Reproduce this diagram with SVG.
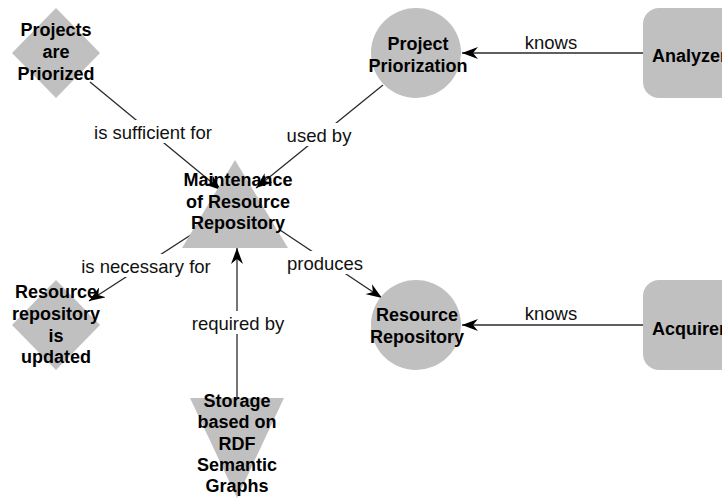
<svg xmlns="http://www.w3.org/2000/svg" width="722" height="500" viewBox="0 0 722 500">
<style>
.shape{fill:#c0c0c0;stroke:none}
.nt{font-family:"Liberation Sans",Arial,sans-serif;font-weight:bold;font-size:18px;fill:#000;text-anchor:middle}
.ntl{font-family:"Liberation Sans",Arial,sans-serif;font-weight:bold;font-size:18px;fill:#000;text-anchor:start}
.lbl{font-family:"Liberation Sans",Arial,sans-serif;font-size:18.5px;fill:#111;text-anchor:middle}
.lbg{fill:#fff;stroke:none}
.edge{stroke:#2a2a2a;stroke-width:1.3;fill:none;marker-end:url(#ah)}
</style>
<defs>
<marker id="ah" markerUnits="userSpaceOnUse" viewBox="0 0 16 12" refX="16" refY="6" markerWidth="16" markerHeight="12" orient="auto">
<path d="M0,0 L16,6 L0,12 L5,6 z" fill="#000"/>
</marker>
</defs>
<rect width="722" height="500" fill="#fff"/>
<g id="connectors">
<line class="edge" x1="90" y1="82" x2="221" y2="190"/>
<line class="edge" x1="383" y1="85" x2="256" y2="188"/>
<line class="edge" x1="200" y1="229" x2="89" y2="301"/>
<line class="edge" x1="280" y1="230" x2="382" y2="298"/>
<line class="edge" x1="237" y1="398" x2="237" y2="248"/>
<line class="edge" x1="643" y1="53" x2="462" y2="53"/>
<line class="edge" x1="643" y1="325" x2="462" y2="325"/>
<rect class="lbg" x="91" y="120" width="124" height="23"/>
<text class="lbl" x="153" y="139">is sufficient for</text>
<rect class="lbg" x="284" y="123" width="71" height="23"/>
<text class="lbl" x="319" y="142">used by</text>
<rect class="lbg" x="78" y="254" width="136" height="23"/>
<text class="lbl" x="146" y="273">is necessary for</text>
<rect class="lbg" x="284" y="251" width="82" height="23"/>
<text class="lbl" x="325" y="270">produces</text>
<rect class="lbg" x="189" y="311" width="99" height="23"/>
<text class="lbl" x="238" y="330">required by</text>
<text class="lbl" x="551" y="49">knows</text>
<text class="lbl" x="551" y="320">knows</text>
</g>
<g id="projects-are-priorized">
<polygon class="shape" points="56,8 100,53 56,98 12,53"/>
<text class="nt" x="56" y="36">Projects</text>
<text class="nt" x="56" y="58">are</text>
<text class="nt" x="56" y="80">Priorized</text>
</g>
<g id="project-priorization">
<circle class="shape" cx="416" cy="53" r="45"/>
<text class="nt" x="418" y="50">Project</text>
<text class="nt" x="418" y="72">Priorization</text>
</g>
<g id="analyzer">
<rect class="shape" x="643" y="8" width="120" height="90" rx="16"/>
<text class="ntl" x="652" y="62">Analyzer</text>
</g>
<g id="maintenance">
<polygon class="shape" points="235,160 288,248 182,248"/>
<text class="nt" x="238" y="186">Maintenance</text>
<text class="nt" x="238" y="208">of Resource</text>
<text class="nt" x="238" y="229">Repository</text>
</g>
<g id="resource-repository-updated">
<polygon class="shape" points="56,280 100,325 56,370 12,325"/>
<text class="nt" x="56" y="298">Resource</text>
<text class="nt" x="56" y="320">repository</text>
<text class="nt" x="56" y="342">is</text>
<text class="nt" x="56" y="363">updated</text>
</g>
<g id="resource-repository">
<circle class="shape" cx="416" cy="325" r="45"/>
<text class="nt" x="417" y="321">Resource</text>
<text class="nt" x="417" y="343">Repository</text>
</g>
<g id="acquirer">
<rect class="shape" x="643" y="280" width="120" height="90" rx="16"/>
<text class="ntl" x="652" y="335">Acquirer</text>
</g>
<g id="storage">
<polygon class="shape" points="190,398 284,398 237,498"/>
<text class="nt" x="237" y="407">Storage</text>
<text class="nt" x="237" y="428">based on</text>
<text class="nt" x="237" y="450">RDF</text>
<text class="nt" x="237" y="471">Semantic</text>
<text class="nt" x="237" y="492">Graphs</text>
</g>
</svg>
